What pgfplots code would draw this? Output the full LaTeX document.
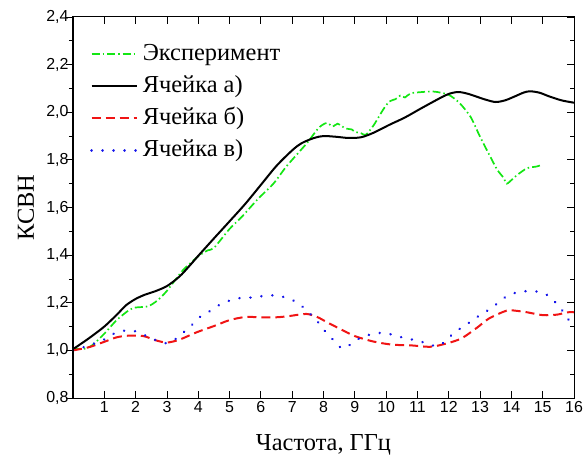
\documentclass[border=0pt]{standalone}
\usepackage{pgfplots}
\pgfplotsset{compat=1.18}
\usepackage{fontspec}
\setmainfont{Liberation Serif}
\setsansfont{Liberation Sans}
\definecolor{expgreen}{RGB}{20,230,20}
\definecolor{cellred}{RGB}{240,20,20}
\definecolor{cellblue}{RGB}{20,20,235}
\begin{document}
\begin{tikzpicture}
\begin{axis}[
  width=501bp, height=381bp, scale only axis,
  xmin=0, xmax=16, ymin=0.8, ymax=2.4,
  xtick={1,2,3,4,5,6,7,8,9,10,11,12,13,14,15,16},
  ytick={0.8,1,1.2,1.4,1.6,1.8,2,2.2,2.4},
  minor y tick num=1,
  xtick align=inside, ytick align=outside, ytick pos=left,
  major tick length=7bp, minor tick length=4bp,
  tick style={black, line width=0.8bp},
  axis line style={line width=1bp},
  /pgf/number format/assume math mode=true,
  ticklabel style={font=\sffamily\fontsize{16}{19}\selectfont},
  yticklabel style={xshift=6bp, /pgf/number format/.cd, use comma, fixed, fixed zerofill, precision=1},
  xlabel={Частота, ГГц}, ylabel={КСВН},
  label style={font=\fontsize{24.5}{28}\selectfont},
  x label style={at={(axis description cs:0.5,-0.123)}, anchor=center},
  y label style={at={(axis description cs:-0.094,0.5)}, anchor=center},
  legend style={at={(axis description cs:0.034,0.937)}, anchor=north west, draw=none, fill=none,
    font=\fontsize{24.5}{28}\selectfont, inner sep=0pt, row sep=6bp, column sep=3bp,
    nodes={inner sep=2bp, text height=17bp, text depth=5bp}},
  legend cell align=left,
  legend image code/.code={\draw[#1] (0bp,0bp) -- (45bp,0bp);},
]
\addplot[expgreen, line width=1.7bp, dash pattern=on 8bp off 3bp on 1.5bp off 3bp, smooth, tension=0.4] coordinates {
(0,1.01) (0.3,1.005) (0.6,1.02) (1,1.07) (1.4,1.128) (1.8,1.17) (2.0,1.18) (2.4,1.185) (2.7,1.21) (3.0,1.25) (3.5,1.335) (4.0,1.395) (4.3,1.42) (4.5,1.43) (5.0,1.51) (5.4,1.562) (5.9,1.635) (6.4,1.70) (6.8,1.77) (7.2,1.83) (7.5,1.875) (7.85,1.935) (8.1,1.955) (8.3,1.94) (8.45,1.952) (8.7,1.932) (8.9,1.928) (9.0,1.918) (9.2,1.912) (9.35,1.905) (9.6,1.945) (9.9,2.01) (10.1,2.045) (10.3,2.055) (10.45,2.07) (10.6,2.062) (10.8,2.08) (11.5,2.087) (12.0,2.073) (12.35,2.038) (12.7,1.98) (13.0,1.897) (13.3,1.82) (13.55,1.758) (13.75,1.725) (13.85,1.70) (14.0,1.715) (14.2,1.738) (14.5,1.765) (14.8,1.772) (15.0,1.78)};
\addlegendentry{Эксперимент}
\addplot[black, line width=2bp, smooth] coordinates {
(0,1.005) (0.5,1.05) (1,1.10) (1.4,1.15) (1.7,1.19) (2.0,1.216) (2.3,1.234) (2.6,1.247) (3,1.27) (3.4,1.31) (3.7,1.352) (4,1.397) (4.5,1.47) (5,1.542) (5.5,1.615) (6,1.695) (6.5,1.775) (7,1.84) (7.3,1.87) (7.7,1.892) (8,1.90) (8.4,1.897) (8.8,1.892) (9.2,1.895) (9.6,1.914) (10.1,1.947) (10.6,1.978) (11.1,2.015) (11.7,2.058) (12.0,2.077) (12.3,2.085) (12.6,2.078) (12.9,2.065) (13.2,2.052) (13.5,2.043) (13.8,2.05) (14.1,2.066) (14.4,2.083) (14.6,2.088) (14.9,2.082) (15.2,2.067) (15.6,2.05) (16,2.04)};
\addlegendentry{Ячейка а)}
\addplot[cellred, line width=2bp, dash pattern=on 9bp off 5bp, smooth] coordinates {
(0,1.0) (0.5,1.013) (1,1.036) (1.4,1.055) (1.8,1.062) (2.25,1.06) (2.65,1.042) (3.0,1.033) (3.4,1.045) (3.95,1.076) (4.5,1.102) (5.0,1.127) (5.5,1.14) (6.0,1.139) (6.5,1.139) (6.9,1.144) (7.45,1.153) (7.8,1.14) (8.1,1.119) (8.5,1.092) (9.0,1.06) (9.6,1.037) (10.2,1.024) (10.8,1.021) (11.4,1.015) (11.9,1.028) (12.4,1.05) (12.9,1.095) (13.3,1.135) (13.85,1.167) (14.1,1.167) (14.5,1.16) (15.0,1.148) (15.45,1.15) (15.8,1.16) (16,1.16)};
\addlegendentry{Ячейка б)}
\addplot[cellblue, line width=2.6bp, line cap=round, dash pattern=on 0.1bp off 10.9bp, smooth] coordinates {
(0,1.0) (0.5,1.02) (1,1.046) (1.3,1.07) (1.65,1.083) (2.0,1.08) (2.35,1.06) (2.7,1.04) (3.0,1.03) (3.3,1.05) (3.55,1.078) (3.8,1.107) (4.05,1.14) (4.4,1.167) (4.65,1.189) (5.0,1.209) (5.35,1.22) (5.7,1.222) (6.05,1.228) (6.4,1.231) (6.7,1.225) (7.0,1.212) (7.27,1.19) (7.52,1.16) (7.8,1.123) (8.0,1.088) (8.25,1.053) (8.48,1.018) (8.69,1.009) (9.0,1.04) (9.33,1.06) (9.68,1.072) (10.0,1.072) (10.35,1.06) (10.7,1.048) (11.0,1.042) (11.35,1.026) (11.67,1.018) (11.95,1.046) (12.2,1.078) (12.5,1.102) (12.77,1.128) (13.06,1.153) (13.32,1.174) (13.6,1.202) (13.88,1.23) (14.23,1.245) (14.58,1.249) (14.9,1.245) (15.2,1.228) (15.43,1.198) (15.67,1.16) (15.88,1.118) (16,1.10)};
\addlegendentry{Ячейка в)}
\end{axis}
\begin{axis}[
  width=501bp, height=381bp, scale only axis,
  xmin=0, xmax=16, ymin=0.8, ymax=2.4,
  xtick=\empty,
  ytick={0.8,1,1.2,1.4,1.6,1.8,2,2.2,2.4}, yticklabels={},
  minor y tick num=1,
  ytick align=inside, ytick pos=right,
  major tick length=7bp, minor tick length=4bp,
  tick style={black, line width=0.8bp},
  axis line style={line width=1bp},
]
\end{axis}
\path ([xshift=-73bp,yshift=-61bp]current axis.south west) rectangle ([xshift=14bp,yshift=17bp]current axis.north east);
\end{tikzpicture}
\end{document}
